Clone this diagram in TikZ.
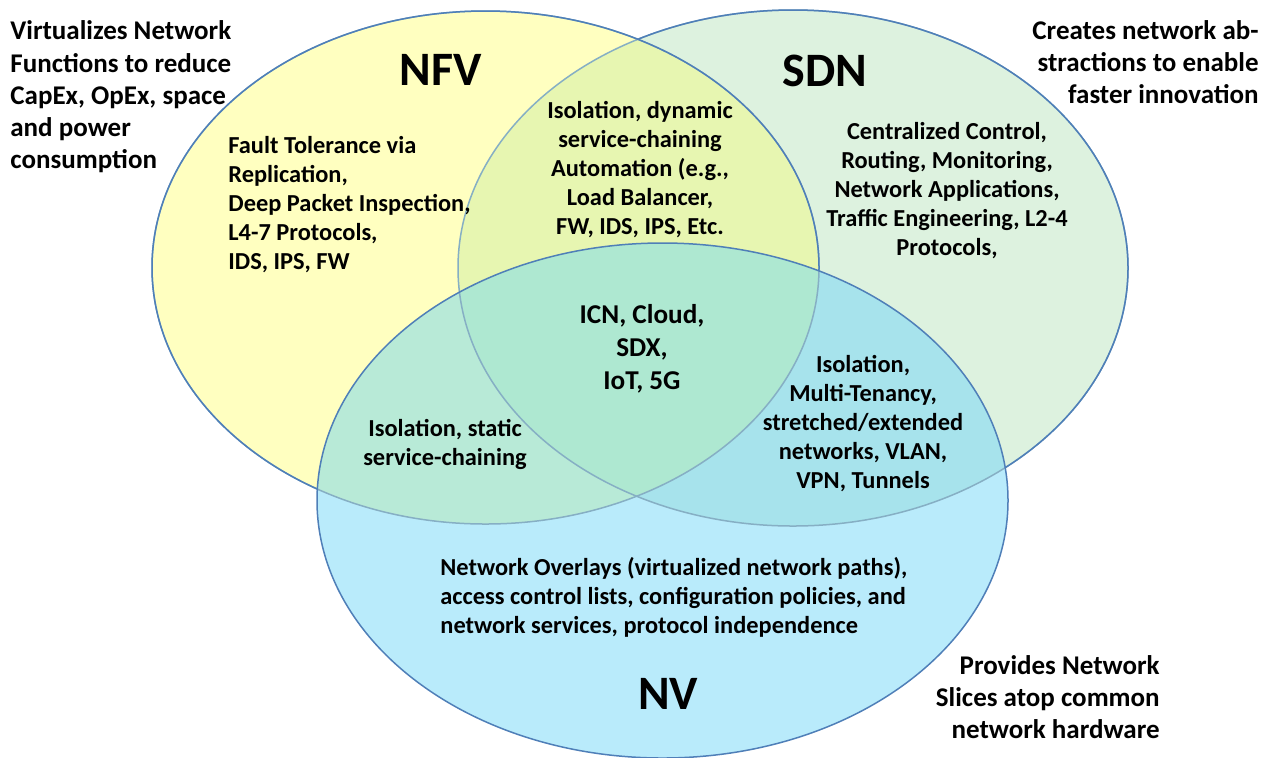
\documentclass[tikz,border=0pt]{standalone}
\usepackage{fontspec}
\setmainfont{Carlito}
\definecolor{nfvc}{HTML}{FFFFC0}
\definecolor{sdnc}{HTML}{DDF2DF}
\definecolor{nvc}{HTML}{B9EBFB}
\definecolor{nfsd}{HTML}{E7F6B1}
\definecolor{nvnf}{HTML}{B8EAD7}
\definecolor{nvsd}{HTML}{A7E3EC}
\definecolor{allc}{HTML}{AEE8D1}
\definecolor{edgec}{HTML}{4F7FB8}
\definecolor{edgel}{HTML}{86AFC4}
\tikzset{
  anno/.style={inner sep=0pt, font=\fontsize{13.5}{16.1}\selectfont\bfseries},
  body/.style={inner sep=0pt, align=center, font=\fontsize{12.2}{14.5}\selectfont\bfseries},
  big/.style={inner sep=0pt, font=\fontsize{24}{28}\selectfont\bfseries},
  mid/.style={inner sep=0pt, align=center, font=\fontsize{13.6}{16.5}\selectfont\bfseries},
  ring/.style={line width=0.75pt}
}
\def\NFV{(485.5,267.5) ellipse [x radius=166.75pt, y radius=128.25pt]}
\def\SDN{(793,268) ellipse [x radius=167.5pt, y radius=129pt]}
\def\NVE{(662.5,500.5) ellipse [x radius=172.75pt, y radius=128.75pt]}
\begin{document}
\begin{tikzpicture}[x=0.5pt,y=-0.5pt]
\useasboundingbox (0,0) rectangle (1273,757);
% fills
\fill[nfvc] \NFV;
\fill[sdnc] \SDN;
\begin{scope}\clip \NFV; \fill[nfsd] \SDN; \end{scope}
\fill[nvc] \NVE;
\begin{scope}\clip \NVE; \fill[nvnf] \NFV; \end{scope}
\begin{scope}\clip \NVE; \fill[nvsd] \SDN; \end{scope}
\begin{scope}\clip \NVE; \clip \NFV; \fill[allc] \SDN; \end{scope}
% outlines: light inside later shapes
\draw[ring,edgel] \SDN;
\begin{scope}[even odd rule]
  \clip (-10,-10) rectangle (1283,767) \NFV;
  \clip (-10,-10) rectangle (1283,767) \NVE;
  \draw[ring,edgec] \SDN;
\end{scope}
\draw[ring,edgel] \NFV;
\begin{scope}[even odd rule]
  \clip (-10,-10) rectangle (1283,767) \NVE;
  \draw[ring,edgec] \NFV;
\end{scope}
\draw[ring,edgec] \NVE;
% labels
\node[big] (lnfv) at (441,70) {NFV};
\node[big] (lsdn) at (825,71) {SDN};
\node[big] (lnv) at (668,694) {NV};
% annotations
\node[anno, anchor=west, align=left] (anfv) at (10,97)
  {Virtualizes Network\\Functions to reduce\\CapEx, OpEx, space\\and power\\consumption};
\node[anno, anchor=east, align=right] (asdn) at (1259,62)
  {Creates network ab-\\stractions to enable\\faster innovation};
\node[anno, anchor=east, align=right] (anv) at (1160,697)
  {Provides Network\\Slices atop common\\network hardware};
% region texts
\node[body, anchor=west, align=left] (tnfv) at (228,205)
  {Fault Tolerance via\\Replication,\\Deep Packet Inspection,\\L4-7 Protocols,\\IDS, IPS, FW};
\node[body] (tnfsd) at (640,170)
  {Isolation, dynamic\\service-chaining\\Automation (e.g.,\\Load Balancer,\\FW, IDS, IPS, Etc.};
\node[body] (tsdn) at (947,191)
  {Centralized Control,\\Routing, Monitoring,\\Network Applications,\\Traffic Engineering, L2-4\\Protocols,};
\node[mid] (tall) at (642,349) {ICN, Cloud,\\SDX,\\IoT, 5G};
\node[body] (tnvsd) at (863,424)
  {Isolation,\\Multi-Tenancy,\\stretched/extended\\networks, VLAN,\\VPN, Tunnels};
\node[body] (tnvnf) at (445,444) {Isolation, static\\service-chaining};
\node[body, anchor=west, align=left] (tnv) at (440,597)
  {Network Overlays (virtualized network paths),\\access control lists, configuration policies, and\\network services, protocol independence};
\end{tikzpicture}
\end{document}
